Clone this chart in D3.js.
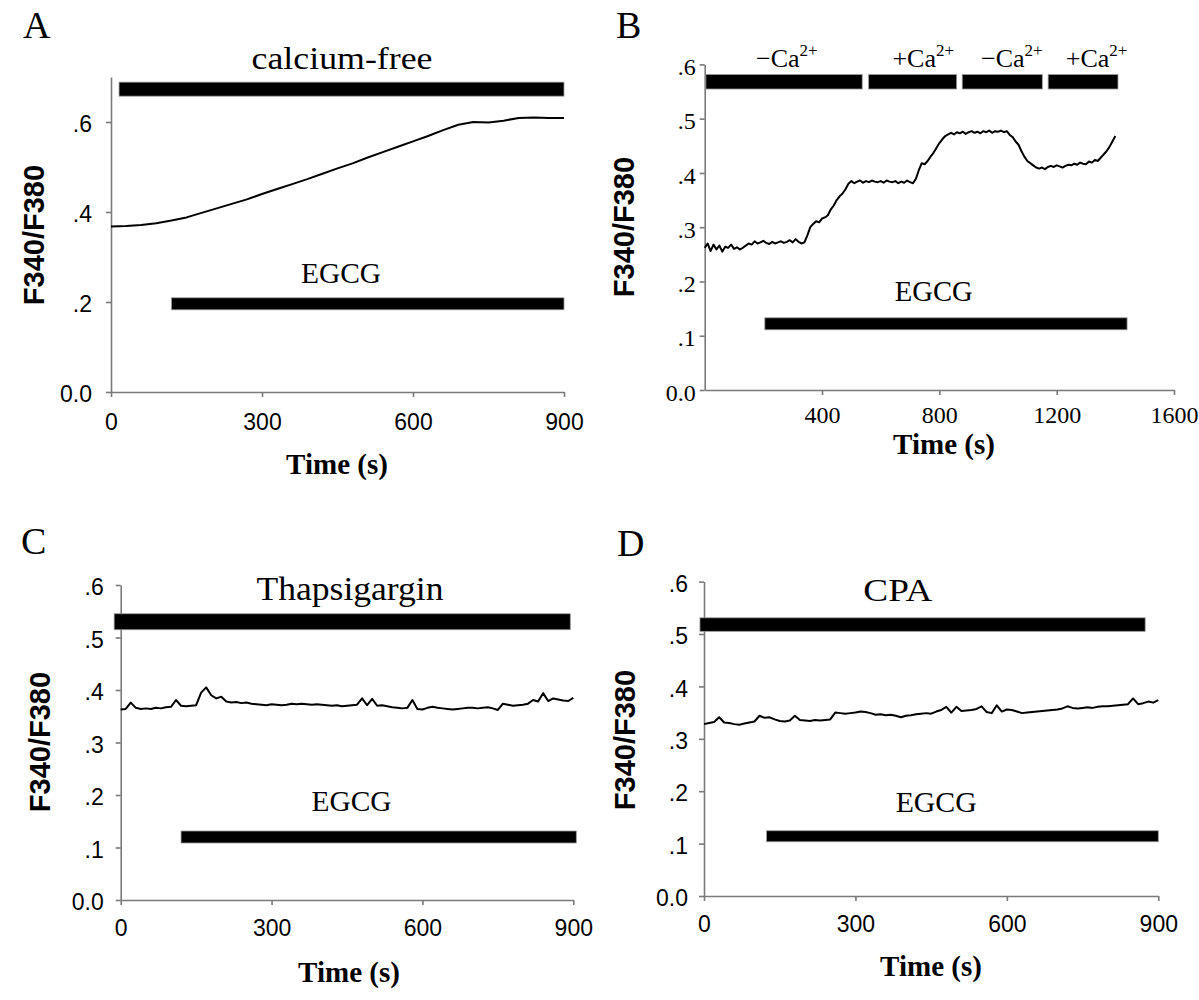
<!DOCTYPE html>
<html>
<head>
<meta charset="utf-8">
<script src="https://cdn.jsdelivr.net/npm/d3@7/dist/d3.min.js"></script>
<style>
  body { margin: 0; background: #fff; }
  svg text { fill: #000; }
</style>
</head>
<body>
<div id="fig"></div>
<script>
// ---- data ----
// A: calcium-free, one sample every 30 s
const stepA = 30;
const ratioA = [0.368, 0.369, 0.371, 0.375, 0.381, 0.388, 0.398, 0.408, 0.418, 0.428,
  0.440, 0.451, 0.462, 0.473, 0.485, 0.497, 0.508, 0.521, 0.533, 0.545,
  0.557, 0.569, 0.582, 0.594, 0.600, 0.599, 0.603, 0.609, 0.610, 0.609, 0.609];

// B: alternating Ca2+, one sample every 10 s
const stepB = 10;
const ratioB = [
  0.262, 0.270, 0.256, 0.268, 0.259, 0.266, 0.255, 0.264, 0.262, 0.268, 0.260,
  0.263, 0.259, 0.262, 0.266, 0.270, 0.268, 0.274, 0.270, 0.272, 0.275, 0.271, 0.269,
  0.273, 0.270, 0.272, 0.274, 0.271, 0.273, 0.276, 0.272, 0.278, 0.273, 0.270, 0.272,
  0.285, 0.300, 0.306, 0.311, 0.309, 0.316, 0.318, 0.322, 0.333, 0.340, 0.350, 0.357,
  0.362, 0.370, 0.380, 0.385,
  0.381, 0.384, 0.386, 0.382, 0.385, 0.383, 0.386, 0.384, 0.383, 0.385, 0.382,
  0.386, 0.384, 0.383, 0.385, 0.381, 0.384, 0.382, 0.386, 0.383, 0.381, 0.389,
  0.405, 0.418, 0.416, 0.422, 0.430, 0.437, 0.446, 0.455, 0.462, 0.468, 0.471, 0.474,
  0.471, 0.475, 0.473, 0.476, 0.472, 0.475, 0.477, 0.474, 0.476, 0.473, 0.477,
  0.475, 0.478, 0.474, 0.477, 0.476, 0.478, 0.475, 0.477,
  0.470, 0.466, 0.458, 0.452, 0.440, 0.430, 0.422, 0.418, 0.414, 0.410, 0.408,
  0.410, 0.407, 0.411, 0.413, 0.411, 0.414, 0.412, 0.410, 0.413, 0.415, 0.414,
  0.417, 0.415, 0.419, 0.417, 0.416,
  0.421, 0.419, 0.424, 0.422, 0.428, 0.434, 0.440, 0.448, 0.458, 0.468];

// C: thapsigargin, one sample every 10 s
const stepC = 10;
const ratioC = [0.363, 0.364, 0.376, 0.366, 0.364, 0.365, 0.364, 0.366, 0.365, 0.367,
  0.368, 0.381, 0.370, 0.369, 0.370, 0.371, 0.395, 0.405, 0.390, 0.384,
  0.387, 0.378, 0.376, 0.377, 0.375, 0.376, 0.374, 0.373, 0.372, 0.371,
  0.373, 0.372, 0.371, 0.372, 0.374, 0.373, 0.374, 0.373, 0.372, 0.373,
  0.372, 0.371, 0.370, 0.371, 0.369, 0.370, 0.371, 0.372, 0.384, 0.371,
  0.383, 0.370, 0.371, 0.369, 0.367, 0.366, 0.365, 0.366, 0.381, 0.364,
  0.363, 0.366, 0.368, 0.366, 0.365, 0.364, 0.363, 0.364, 0.365, 0.366,
  0.366, 0.365, 0.366, 0.367, 0.365, 0.362, 0.374, 0.372, 0.370, 0.371,
  0.372, 0.374, 0.381, 0.378, 0.394, 0.379, 0.384, 0.382, 0.380, 0.379, 0.385];

// D: CPA, one sample every 10 s
const stepD = 10;
const ratioD = [0.328, 0.330, 0.332, 0.341, 0.331, 0.330, 0.328, 0.327, 0.329, 0.331,
  0.333, 0.344, 0.340, 0.341, 0.337, 0.334, 0.333, 0.335, 0.344, 0.336,
  0.335, 0.334, 0.336, 0.335, 0.336, 0.337, 0.350, 0.349, 0.348, 0.349,
  0.350, 0.352, 0.351, 0.349, 0.346, 0.347, 0.345, 0.346, 0.344, 0.341,
  0.344, 0.345, 0.347, 0.348, 0.349, 0.348, 0.352, 0.355, 0.361, 0.350,
  0.361, 0.353, 0.354, 0.355, 0.357, 0.362, 0.351, 0.349, 0.364, 0.352,
  0.356, 0.355, 0.352, 0.349, 0.350, 0.351, 0.352, 0.353, 0.354, 0.355,
  0.356, 0.358, 0.362, 0.359, 0.358, 0.359, 0.360, 0.359, 0.361, 0.362,
  0.362, 0.363, 0.364, 0.365, 0.366, 0.377, 0.366, 0.368, 0.371, 0.369, 0.374];

// treatment bars: [start s, end s, level]
const barsA = [[16, 900, 0.673], [120, 900, 0.196]];
const barsB = [[4, 537, 0.568], [559, 859, 0.568], [878, 1151, 0.568], [1171, 1409, 0.568], [205, 1440, 0.122]];
const barsC = [[-13, 894, 0.530], [120, 906, 0.120]];
const barsD = [[-8, 874, 0.518], [124, 900, 0.114]];

// Ca2+ labels above the bars in B
const caSigns = ["\u2212", "+", "\u2212", "+"];
const caAt = [280, 745, 1047, 1336];

// ticks
const ticks900 = [0, 300, 600, 900];
const ticksB = [400, 800, 1200, 1600];
const yTicksA = [0, 0.2, 0.4, 0.6];
const yTicks6 = [0, 0.1, 0.2, 0.3, 0.4, 0.5, 0.6];
const yTickText = { 0: "0.0", 0.1: ".1", 0.2: ".2", 0.3: ".3", 0.4: ".4", 0.5: ".5", 0.6: ".6" };

// ---- drawing ----
const serif = "'Liberation Serif','Times New Roman',serif";
const sans = "'Liberation Sans',Arial,sans-serif";

const svg = d3.select("#fig").append("svg")
  .attr("width", 1199)
  .attr("height", 1000);

function label(g, x, y, s, size, family, opt) {
  opt = opt || {};
  const t = g.append("text")
    .attr("x", x).attr("y", y)
    .attr("text-anchor", opt.anchor || "middle")
    .style("font-family", family)
    .style("font-size", size + "px")
    .style("font-weight", opt.bold ? "bold" : "normal")
    .text(s);
  if (opt.len) t.attr("textLength", opt.len).attr("lengthAdjust", "spacingAndGlyphs");
  return t;
}

function drawPanel(p) {
  const g = svg.append("g");
  const x = d3.scaleLinear().domain(p.xDomain).range(p.xRange);
  const y = d3.scaleLinear().domain(p.yDomain).range(p.yRange);

  // axes
  const gx = g.append("g")
    .attr("transform", `translate(0,${y(0)})`)
    .call(d3.axisBottom(x).tickValues(p.xTicks).tickSize(5).tickSizeOuter(0)
      .tickFormat(d => String(d)));
  gx.selectAll("text")
    .attr("y", p.xLabelY)
    .style("font-family", p.tickFont)
    .style("font-size", p.tickSize + "px");

  const gy = g.append("g")
    .attr("transform", `translate(${x(0)},0)`)
    .call(d3.axisLeft(y).tickValues(p.yTicks).tickSize(5).tickSizeOuter(0)
      .tickFormat(d => yTickText[d]));
  gy.selectAll("text")
    .attr("x", -p.yLabelGap)
    .attr("dy", "0.42em")
    .style("font-family", p.tickFont)
    .style("font-size", p.tickSize + "px");

  g.selectAll(".domain, .tick line").attr("stroke", "#7a7a7a").attr("stroke-width", 1.6);

  // treatment bars (last one is the EGCG bar)
  g.selectAll(".bar")
    .data(p.bars)
    .enter().append("rect")
    .attr("class", "bar")
    .attr("x", d => x(d[0]))
    .attr("width", d => x(d[1]) - x(d[0]))
    .attr("y", (d, i) => y(d[2]) - p.barH[i === p.bars.length - 1 ? 1 : 0] / 2)
    .attr("height", (d, i) => p.barH[i === p.bars.length - 1 ? 1 : 0])
    .attr("fill", "#000")
    .attr("stroke", "#9a9a9a")
    .attr("stroke-width", 0.8);

  // trace
  const line = d3.line()
    .x((d, i) => x(i * p.step))
    .y(d => y(d));
  g.append("path")
    .datum(p.values)
    .attr("d", line)
    .attr("fill", "none")
    .attr("stroke", "#000")
    .attr("stroke-width", p.lineW)
    .attr("stroke-linejoin", "round");

  // texts
  label(g, p.letter[1], p.letter[2], p.letter[0], 38, serif, { anchor: "start" });
  label(g, 0, 0, "F340/F380", 29, sans, { bold: true })
    .attr("transform", `translate(${p.yTitle[0]},${p.yTitle[1]}) rotate(-90)`)
    .attr("dy", "0.36em");
  label(g, p.xTitle[0], p.xTitle[1], "Time (s)", 29, serif, { bold: true });
  p.notes.forEach(n => label(g, x(n[1]), n[2], n[0], n[3], serif, { len: n[4] }));
  return { g, x, y };
}

drawPanel({
  xDomain: [0, 900], xRange: [111, 564], yDomain: [0, 0.7], yRange: [392, 77],
  xTicks: ticks900, yTicks: yTicksA, tickFont: sans, tickSize: 23, xLabelY: 22, yLabelGap: 19,
  bars: barsA, barH: [14, 12], step: stepA, values: ratioA, lineW: 2,
  letter: ["A", 23, 38], yTitle: [34, 235], xTitle: [337, 474],
  notes: [["calcium-free", 459, 69, 31, 181], ["EGCG", 457, 283, 29, 80]]
});

const pB = drawPanel({
  xDomain: [0, 1600], xRange: [704.7, 1174], yDomain: [0, 0.6], yRange: [390, 64.4],
  xTicks: ticksB, yTicks: yTicks6, tickFont: serif, tickSize: 24, xLabelY: 16, yLabelGap: 9,
  bars: barsB, barH: [14.5, 12], step: stepB, values: ratioB, lineW: 2,
  letter: ["B", 616, 38], yTitle: [624, 227], xTitle: [944, 454],
  notes: [["EGCG", 781, 301, 29, 78]]
});

// Ca2+ labels in B
caSigns.forEach((s, i) => {
  const t = pB.g.append("text")
    .attr("x", pB.x(caAt[i]))
    .attr("y", 67)
    .attr("text-anchor", "middle")
    .style("font-family", serif)
    .style("font-size", "26px");
  t.append("tspan").text(s + "Ca");
  t.append("tspan").attr("dy", -11).style("font-size", "17px").text("2+");
});

drawPanel({
  xDomain: [0, 900], xRange: [120.7, 573.3], yDomain: [0, 0.6], yRange: [900, 585],
  xTicks: ticks900, yTicks: yTicks6, tickFont: sans, tickSize: 23, xLabelY: 20, yLabelGap: 17,
  bars: barsC, barH: [16, 12], step: stepC, values: ratioC, lineW: 2,
  letter: ["C", 21, 554], yTitle: [40, 742], xTitle: [349, 982],
  notes: [["Thapsigargin", 456, 600, 33, 187], ["EGCG", 459, 811, 29, 80]]
});

drawPanel({
  xDomain: [0, 900], xRange: [704, 1158.3], yDomain: [0, 0.6], yRange: [896, 581.6],
  xTicks: ticks900, yTicks: yTicks6, tickFont: sans, tickSize: 23, xLabelY: 20, yLabelGap: 16,
  bars: barsD, barH: [13.5, 11], step: stepD, values: ratioD, lineW: 2,
  letter: ["D", 617, 556], yTitle: [625, 740], xTitle: [931, 976],
  notes: [["CPA", 384, 601, 32, 69], ["EGCG", 460, 812, 29, 81]]
});
</script>
</body>
</html>
